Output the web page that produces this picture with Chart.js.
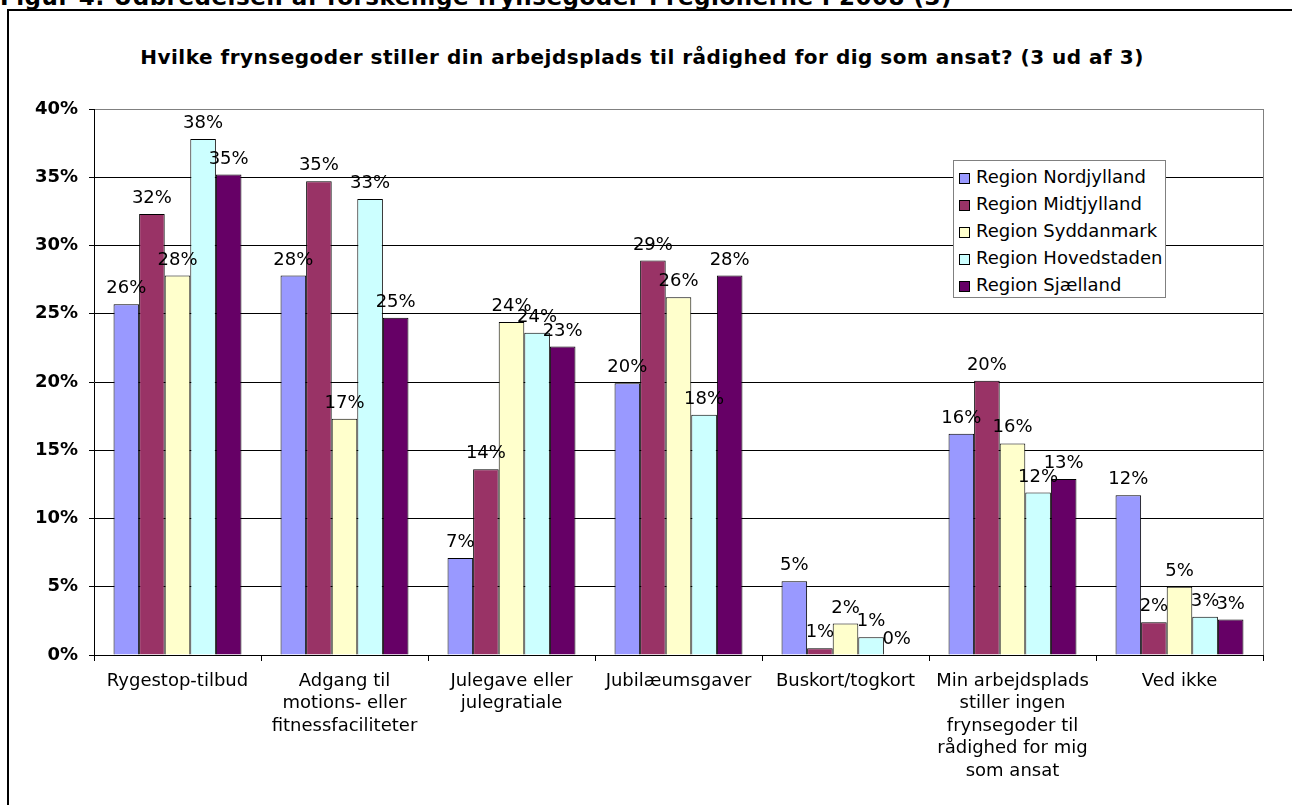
<!DOCTYPE html>
<html>
<head>
<meta charset="utf-8">
<script src="https://cdn.jsdelivr.net/npm/chart.js@4"></script>
<style>
    body { margin: 0; background: #fff; font-family: "DejaVu Sans", Verdana, sans-serif; }
    #page { position: relative; width: 1292px; height: 805px; overflow: hidden; }
    #heading { position: absolute; left: 0; top: -14px; font-size: 23px; line-height: 23px; font-weight: bold; letter-spacing: 0.5px; white-space: nowrap; }
    #frame { position: absolute; left: 7px; top: 9px; width: 1400px; height: 900px; border-left: 2px solid #000; border-top: 2px solid #000; }
    #title { position: absolute; left: 0; top: 45px; width: 1284px; text-align: center; font-size: 20px; font-weight: bold; letter-spacing: 0.5px; line-height: 24px; }
    #chart { position: absolute; left: 0; top: 0; }
    #legend { position: absolute; left: 953px; top: 160px; width: 211px; height: 134px; border: 1px solid #808080; background: #fff; padding-top: 2px; }
    .item { height: 27px; line-height: 27px; font-size: 18px; white-space: nowrap; }
    .swatch { display: inline-block; width: 9px; height: 9px; border: 1px solid #000; margin: 0 6px 0 5px; vertical-align: -1px; }
</style>
</head>
<body>
<div id="page">
    <div id="heading">Figur 4: Udbredelsen af forskellige frynsegoder i regionerne i 2008 (3)</div>
    <div id="frame"></div>
    <div id="title">Hvilke frynsegoder stiller din arbejdsplads til rådighed for dig som ansat? (3 ud af 3)</div>
    <canvas id="chart" width="1292" height="805"></canvas>
    <div id="legend"></div>
</div>
<script>
// Kategorier (x-akse)
const categories = [
    'Rygestop-tilbud',
    ['Adgang til', 'motions- eller', 'fitnessfaciliteter'],
    ['Julegave eller', 'julegratiale'],
    'Jubilæumsgaver',
    'Buskort/togkort',
    ['Min arbejdsplads', 'stiller ingen', 'frynsegoder til', 'rådighed for mig', 'som ansat'],
    'Ved ikke'
];

// Værdier i procent
const nordjylland  = [25.7, 27.8, 7.1, 19.9, 5.4, 16.2, 11.7];
const midtjylland  = [32.3, 34.7, 13.6, 28.9, 0.5, 20.1, 2.4];
const syddanmark   = [27.8, 17.3, 24.4, 26.2, 2.3, 15.5, 5.0];
const hovedstaden  = [37.8, 33.4, 23.6, 17.6, 1.3, 11.9, 2.8];
const sjaelland    = [35.2, 24.7, 22.6, 27.8, 0.0, 12.9, 2.6];

const regionNames = ['Region Nordjylland', 'Region Midtjylland', 'Region Syddanmark', 'Region Hovedstaden', 'Region Sjælland'];
const regionColors = ['#9999FF', '#993366', '#FFFFCC', '#CCFFFF', '#660066'];
const yTicks = [0, 5, 10, 15, 20, 25, 30, 35, 40];

Chart.defaults.font.family = '"DejaVu Sans", Verdana, sans-serif';
Chart.defaults.color = '#000';

// Procent-tal over søjlerne
const barValues = {
    id: 'barValues',
    afterDatasetsDraw(chart) {
        const ctx = chart.ctx;
        ctx.save();
        ctx.font = '18px "DejaVu Sans"';
        ctx.fillStyle = '#000';
        ctx.textAlign = 'center';
        ctx.textBaseline = 'alphabetic';
        chart.data.datasets.forEach((ds, i) => {
            const meta = chart.getDatasetMeta(i);
            meta.data.forEach((bar, j) => {
                ctx.fillText(Math.round(ds.data[j]) + '%', bar.x, bar.y - 11);
            });
        });
        ctx.restore();
    }
};

// Grå ramme til højre om plotområdet
const plotBorder = {
    id: 'plotBorder',
    beforeDatasetsDraw(chart) {
        const a = chart.chartArea;
        const ctx = chart.ctx;
        ctx.save();
        ctx.strokeStyle = '#808080';
        ctx.lineWidth = 1;
        ctx.beginPath();
        ctx.moveTo(Math.round(a.right) + 0.5, a.top);
        ctx.lineTo(Math.round(a.right) + 0.5, a.bottom);
        ctx.stroke();
        ctx.restore();
    }
};

const seriesData = [nordjylland, midtjylland, syddanmark, hovedstaden, sjaelland];

const chart = new Chart(document.getElementById('chart'), {
    type: 'bar',
    data: {
        labels: categories,
        datasets: seriesData.map((values, i) => ({
            label: regionNames[i],
            data: values,
            backgroundColor: regionColors[i],
            borderColor: '#000',
            borderWidth: 1,
            barPercentage: 1,
            categoryPercentage: 0.766
        }))
    },
    options: {
        responsive: false,
        animation: false,
        layout: { padding: { top: 109, right: 29, left: 0, bottom: 0 } },
        plugins: {
            legend: { display: false },
            tooltip: { enabled: false }
        },
        scales: {
            x: {
                afterFit(scale) { scale.height = 150; },
                grid: {
                    offset: true,
                    drawOnChartArea: false,
                    drawTicks: true,
                    tickLength: 6,
                    color: '#000'
                },
                border: { color: '#000' },
                ticks: {
                    autoSkip: false,
                    maxRotation: 0,
                    padding: 9,
                    font: { size: 18, lineHeight: 1.25 }
                }
            },
            y: {
                min: 0,
                max: 40,
                afterFit(scale) { scale.width = 94; },
                afterBuildTicks(scale) {
                    scale.ticks = yTicks.map(v => ({ value: v }));
                },
                grid: {
                    color: ctx => ctx.tick && ctx.tick.value === 40 ? '#808080' : '#000',
                    tickColor: '#000',
                    tickLength: 5
                },
                border: { color: '#000' },
                ticks: {
                    padding: 11,
                    font: { size: 18, weight: 'bold' },
                    callback: v => v + '%'
                }
            }
        }
    },
    plugins: [barValues, plotBorder]
});

// Forklaring
const legend = document.getElementById('legend');
chart.data.datasets.forEach(ds => {
    const item = document.createElement('div');
    item.className = 'item';
    const sw = document.createElement('span');
    sw.className = 'swatch';
    sw.style.background = ds.backgroundColor;
    item.appendChild(sw);
    item.appendChild(document.createTextNode(ds.label));
    legend.appendChild(item);
});
</script>
</body>
</html>
